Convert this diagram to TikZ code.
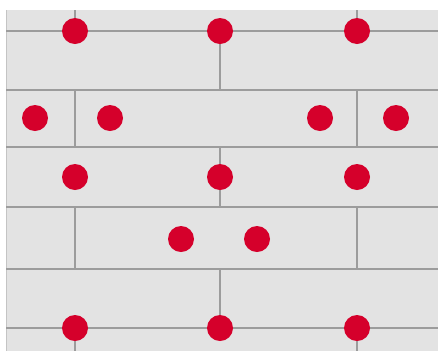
\documentclass[tikz,border=0pt]{standalone}
\definecolor{fons}{HTML}{E3E3E3}
\definecolor{junta}{HTML}{9C9C9C}
\definecolor{punt}{HTML}{D5002B}
\tikzset{
  junt/.style={draw=junta, line width=2pt},
  puntvermell/.style={circle, fill=punt, inner sep=0pt, minimum size=7.8mm}
}
\begin{document}
\begin{tikzpicture}[x=0.3mm, y=-0.3mm]

	% Marc
	\useasboundingbox (0,0) rectangle (438,351);
	\fill[fons] (6,10) rectangle (438,351);
	\draw[junta!60, line width=0.6pt] (6,10) -- (6,351);

	% Juntes horitzontals
	\foreach \y in {31,90,147,207,269,328}
	\draw[junt] (6,\y) -- (438,\y);

	% Juntes verticals, fileres senars
	\foreach \ya/\yb in {10/31,90/147,207/269,328/351}
	{
		\draw[junt] (75,\ya) -- (75,\yb);
		\draw[junt] (357,\ya) -- (357,\yb);
	}

	% Juntes verticals, fileres parells
	\foreach \ya/\yb in {31/90,147/207,269/328}
	\draw[junt] (220,\ya) -- (220,\yb);

	% Punts
	\node[puntvermell] (p11) at (75,31) {};
	\node[puntvermell] (p12) at (220,31) {};
	\node[puntvermell] (p13) at (357,31) {};

	\node[puntvermell] (p21) at (35,118) {};
	\node[puntvermell] (p22) at (110,118) {};
	\node[puntvermell] (p23) at (320,118) {};
	\node[puntvermell] (p24) at (396,118) {};

	\node[puntvermell] (p31) at (75,177) {};
	\node[puntvermell] (p32) at (220,177) {};
	\node[puntvermell] (p33) at (357,177) {};

	\node[puntvermell] (p41) at (181,239) {};
	\node[puntvermell] (p42) at (257,239) {};

	\node[puntvermell] (p51) at (75,328) {};
	\node[puntvermell] (p52) at (220,328) {};
	\node[puntvermell] (p53) at (357,328) {};

\end{tikzpicture}
\end{document}
